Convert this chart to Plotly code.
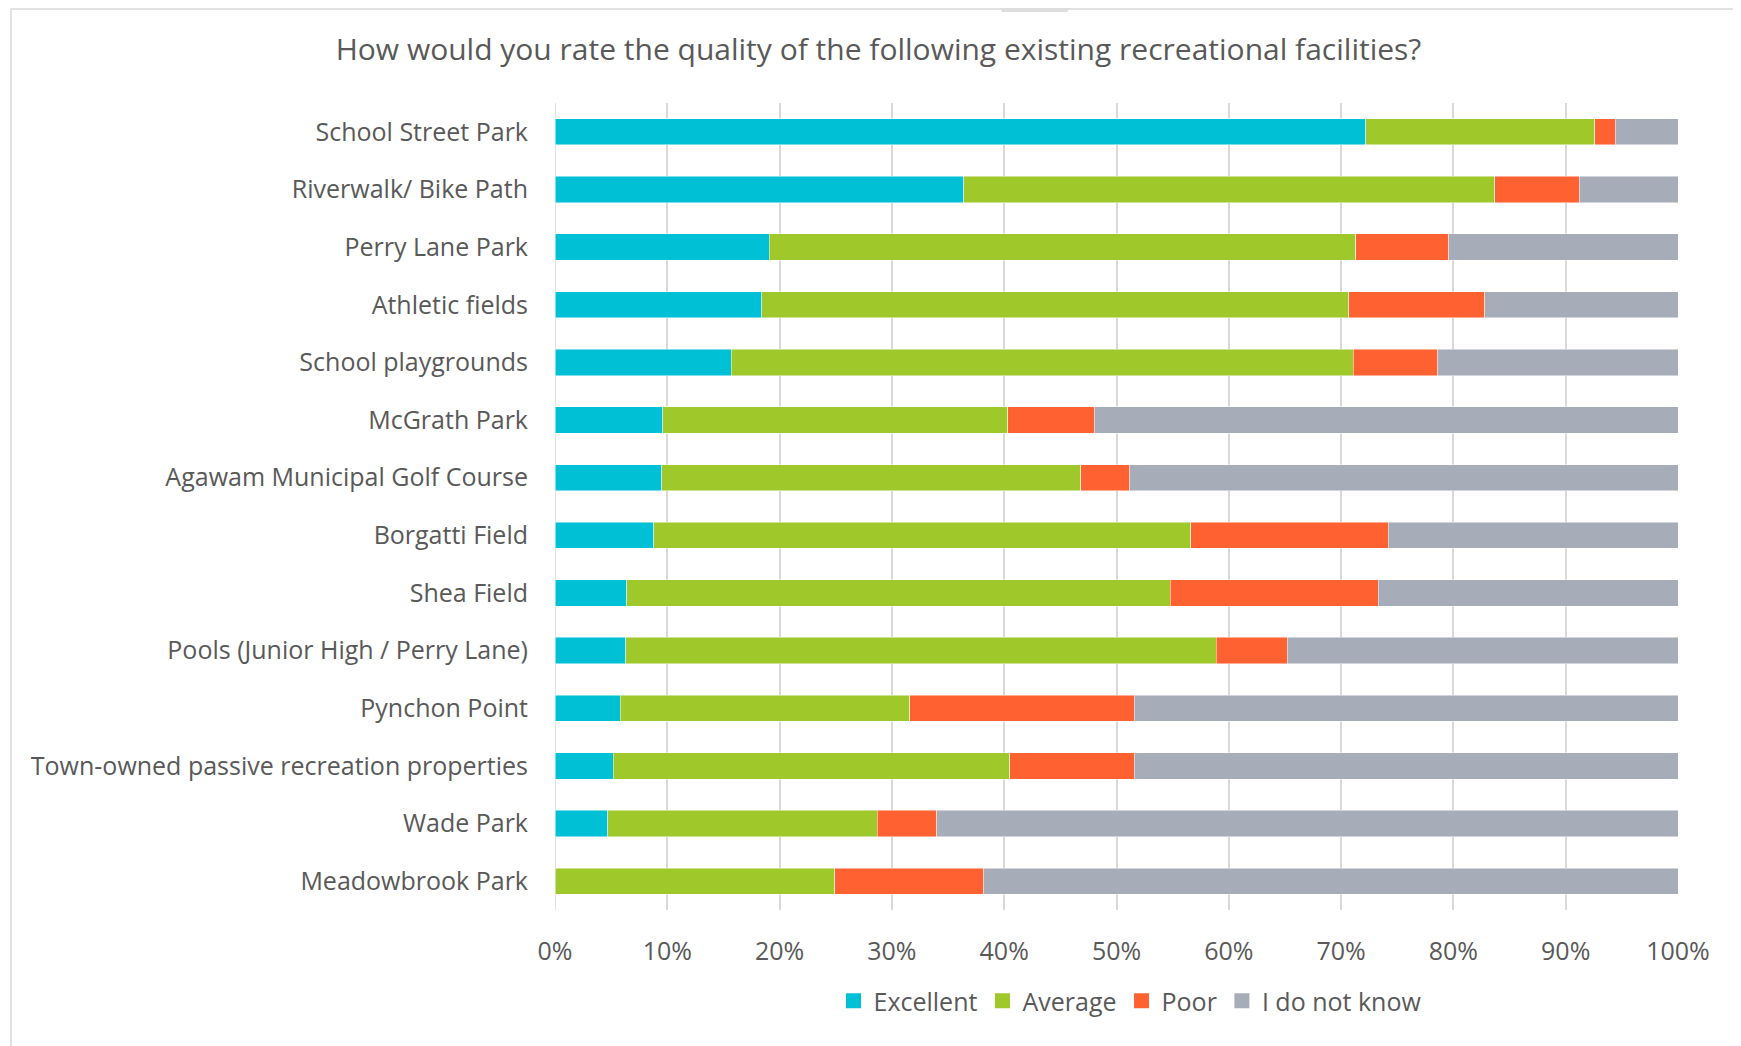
import plotly.graph_objects as go

facilities = [
    "School Street Park",
    "Riverwalk/ Bike Path",
    "Perry Lane Park",
    "Athletic fields",
    "School playgrounds",
    "McGrath Park",
    "Agawam Municipal Golf Course",
    "Borgatti Field",
    "Shea Field",
    "Pools (Junior High / Perry Lane)",
    "Pynchon Point",
    "Town-owned passive recreation properties",
    "Wade Park",
    "Meadowbrook Park",
]
excellent = [72.2, 36.4, 19.1, 18.4, 15.7, 9.6, 9.5, 8.8, 6.4, 6.3, 5.8, 5.2, 4.7, 0.0]
average   = [20.4, 47.3, 52.2, 52.3, 55.4, 30.7, 37.3, 47.8, 48.4, 52.6, 25.8, 35.3, 24.0, 24.9]
poor      = [1.8, 7.5, 8.3, 12.1, 7.5, 7.7, 4.4, 17.6, 18.5, 6.3, 20.0, 11.1, 5.3, 13.3]
dont_know = [5.6, 8.8, 20.4, 17.2, 21.4, 52.0, 48.8, 25.8, 26.7, 34.8, 48.4, 48.4, 66.0, 61.8]

series = [
    ("Excellent", excellent, "#00C0D5"),
    ("Average", average, "#9FC82B"),
    ("Poor", poor, "#FF6131"),
    ("I do not know", dont_know, "#A6ACB8"),
]

# page geometry (page has an 8px body margin)
OFF = 8
PL, PR, PT, PB = 555, 1678, 103, 910
PW, PH = PR - PL, PB - PT

def px(x):
    return (x - PL) / PW

def py(y):
    return (PB - y) / PH

fig = go.Figure()
for name, vals, color in series:
    fig.add_trace(go.Bar(
        y=facilities, x=[v / 100 for v in vals], name=name, orientation="h",
        marker=dict(color=color, line=dict(color="rgba(255,255,255,0.6)", width=0.8)),
        legendgroup=name, showlegend=False,
    ))
# legend entries with larger square swatches
for name, vals, color in series:
    fig.add_trace(go.Scatter(
        x=[None], y=[None], mode="markers", name=name, legendgroup=name,
        marker=dict(symbol="square", size=15, color=color), showlegend=True,
    ))

fig.update_layout(
    barmode="stack",
    bargap=0.545,
    width=1741, height=1046,
    paper_bgcolor="white", plot_bgcolor="white",
    margin=dict(l=PL - OFF, r=1741 + OFF - PR, t=PT - OFF, b=1046 + OFF - PB),
    font=dict(family="Open Sans", color="#595959"),
    title=dict(text="How would you rate the quality of the following existing recreational facilities?",
               x=0.5, xanchor="center", y=1 - (49 - OFF) / 1046, yanchor="middle",
               font=dict(size=30, color="#595959")),
    xaxis=dict(range=[0, 1], tickformat=".0%", dtick=0.1, showgrid=True,
               gridcolor="#D9D9D9", gridwidth=1.5, zeroline=False, showline=False,
               tickfont=dict(size=25, color="#595959"), ticklabelstandoff=24),
    yaxis=dict(autorange="reversed", showgrid=False, tickfont=dict(size=25, color="#595959"),
               ticklabelstandoff=26, showline=False),
    legend=dict(orientation="h", x=px(1130), xanchor="center", y=py(1001), yanchor="middle",
                font=dict(size=25, color="#595959"), traceorder="normal", itemwidth=30),
    shapes=[
        dict(type="rect", xref="paper", yref="paper",
             x0=px(11), x1=px(1737), y0=py(1070), y1=py(9),
             line=dict(color="#D9D9D9", width=1.5), fillcolor="rgba(0,0,0,0)", layer="below"),
        dict(type="path", xref="paper", yref="paper",
             path=f"M {px(1000)} {py(8)} L {px(1070)} {py(8)} L {px(1067)} {py(12)} L {px(1002)} {py(12)} Z",
             line=dict(width=0), fillcolor="#DDDDDD", layer="below"),
    ],
)
fig.add_vline(x=0, line=dict(color="#D9D9D9", width=1.5), layer="below")

fig.write_html("out.html")
